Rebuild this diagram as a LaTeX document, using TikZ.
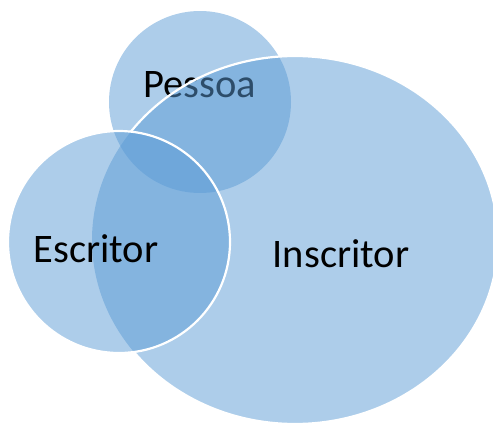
\documentclass[tikz,border=0pt]{standalone}
\usepackage{fontspec}
\setmainfont{Carlito}
\definecolor{vennblue}{HTML}{5B9BD5}

\begin{document}
\begin{tikzpicture}[x=1pt,y=-1pt,line width=2.2pt,
  venn/.style={fill=vennblue,fill opacity=0.5},
  setname/.style={text=black,anchor=base,inner sep=0pt,font=\fontsize{40.5}{48}\selectfont}]
\useasboundingbox (0,0) rectangle (493,423);
\clip (0,0) rectangle (493,423);

% Pessoa
\fill[venn] (200,102) circle (91);
\node[setname] (pessoa) at (200,97) {Pessoa};

% Inscritor
\fill[venn] (295,240) ellipse [x radius=203,y radius=184];
\begin{scope}[even odd rule]
\clip (0,0) rectangle (493,423) (119,242) circle (111);
\draw[white] (295,240) ellipse [x radius=203,y radius=184];
\end{scope}
\node[setname] (inscritor) at (341,267) {Inscritor};

% Escritor
\filldraw[venn,draw=white] (119,242) circle (111);
\node[setname] (escritor) at (96,262) {Escritor};
\end{tikzpicture}
\end{document}
